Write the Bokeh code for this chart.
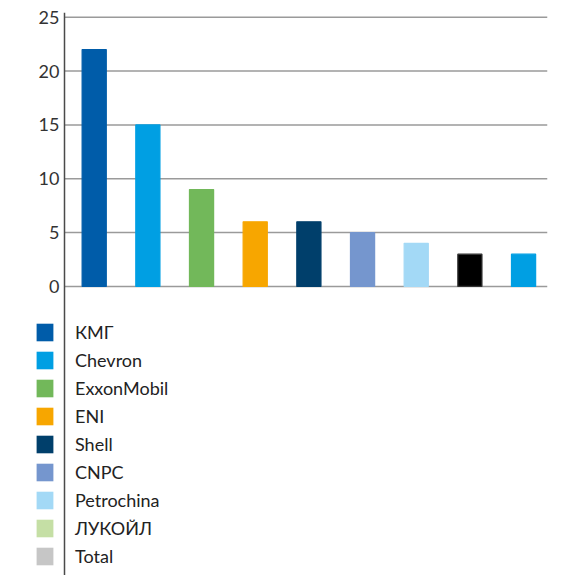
import numpy as np
from bokeh.plotting import figure
from bokeh.models import (ColumnDataSource, Range1d, FixedTicker, Legend, LegendItem, Span)
from bokeh.embed import file_html
from bokeh.resources import INLINE

# ---- data ----
companies = ["КМГ", "Chevron", "ExxonMobil", "ENI", "Shell", "CNPC", "Petrochina", "ЛУКОЙЛ", "Total"]
shares = [22, 15, 9, 6, 6, 5, 4, 3, 3]
bar_colors = ["#005CA9", "#009FE3", "#72B85A", "#F7A600", "#003F6B", "#7596CE", "#A3D9F6", "#000000", "#009FE3"]
bar_edges = ["#005CA9", "#009FE3", "#72B85A", "#F7A600", "#003F6B", "#7596CE", "#A3D9F6", "#333333", "#009FE3"]
legend_names = ["КМГ", "Chevron", "ExxonMobil", "ENI", "Shell", "CNPC", "Petrochina", "ЛУКОЙЛ", "Total"]
legend_colors = ["#005CA9", "#009FE3", "#72B85A", "#F7A600", "#003F6B", "#7596CE", "#A3D9F6", "#C5DFA5", "#C6C6C6"]
y_ticks = [0, 5, 10, 15, 20, 25]

FONT = "Lato"
# layout (page pixels)
FRAME_L, FRAME_R, AXIS_X, FIRST_BAR_X, SLOT = 20, 547, 64, 93.7, 53.67
x_start = -(FIRST_BAR_X - FRAME_L) / SLOT
x_end = x_start + (FRAME_R - FRAME_L) / SLOT
axis_loc = x_start + (AXIS_X - FRAME_L) / SLOT

p = figure(width=557, height=575, x_range=Range1d(x_start, x_end),
           y_range=Range1d(-26.84, 25.436), output_backend="svg",
           toolbar_location=None, x_axis_location=None)
p.min_border_left = FRAME_L
p.min_border_right = 10
p.min_border_top = 12
p.min_border_bottom = 0
p.outline_line_color = None

# horizontal gridlines that start at the axis line
p.xgrid.grid_line_color = None
p.ygrid.grid_line_color = None
gsrc = ColumnDataSource(dict(tick=y_ticks))
p.segment(x0=axis_loc, x1=x_end, y0="tick", y1="tick",
          line_color="#9a9a9a", line_width=1.5, source=gsrc)

src = ColumnDataSource(dict(pos=np.arange(len(companies)), company=companies, share=shares,
                            color=bar_colors, edge=bar_edges))
p.vbar(x="pos", top="share", bottom=0, width=0.45,
       source=src, fill_color="color", line_color="edge", line_width=1.2)

# vertical axis line
p.add_layout(Span(location=axis_loc, dimension="height",
                  line_color="#4a4a4a", line_width=1.5))

ax = p.yaxis[0]
ax.ticker = FixedTicker(ticks=y_ticks)
ax.axis_line_color = None
ax.major_tick_line_color = None
ax.minor_tick_line_color = None
ax.major_tick_out = 0
ax.major_tick_in = 0
ax.major_label_text_font = FONT
ax.major_label_text_font_size = "18px"
ax.major_label_text_color = "#333333"
ax.major_label_standoff = -(AXIS_X - FRAME_L - 5)

# legend: zero-height bars supply the swatch colours
lsrc = ColumnDataSource(dict(pos=np.arange(len(legend_names)), name=legend_names, color=legend_colors))
swatch = p.vbar(x="pos", top=0, bottom=0, width=0.45, fill_color="color",
                line_color=None, source=lsrc)
items = [LegendItem(label=nm, renderers=[swatch], index=i) for i, nm in enumerate(legend_names)]
legend = Legend(items=items, location=(14, 8), orientation="vertical",
                glyph_width=21, glyph_height=22, label_height=22, spacing=6,
                label_standoff=20, padding=0, margin=0,
                background_fill_alpha=0, border_line_color=None,
                label_text_font=FONT, label_text_font_size="18px",
                label_text_color="#222222")
p.add_layout(legend, "center")

open("out.html", "w").write(file_html(p, INLINE))
